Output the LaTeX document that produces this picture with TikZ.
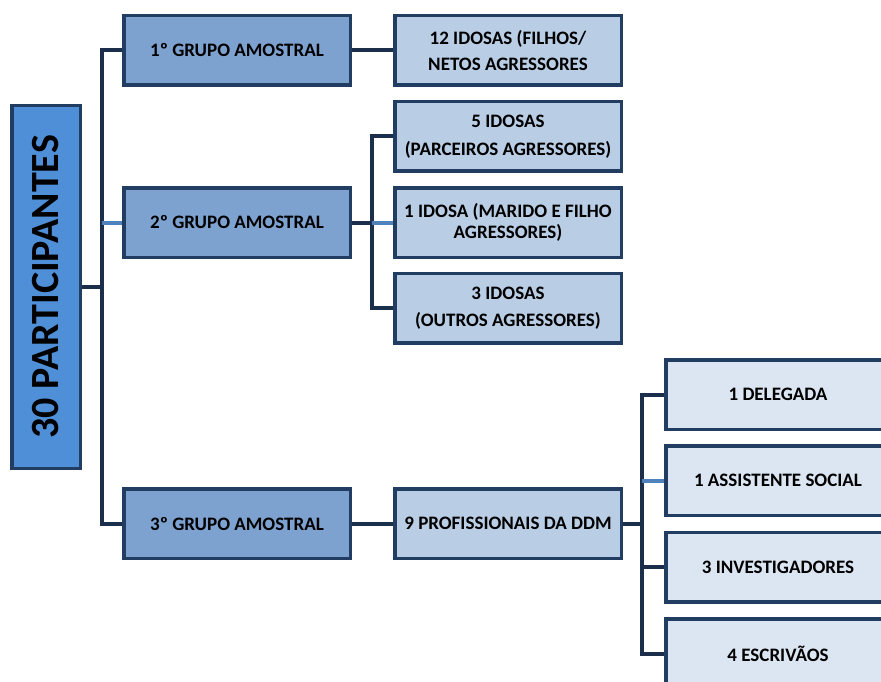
\documentclass[tikz,border=0pt]{standalone}
\usepackage{fontspec}
\setmainfont{Carlito}
\definecolor{bordc}{HTML}{213D61}
\definecolor{connc}{HTML}{1B2F4D}
\definecolor{lightc}{HTML}{4F81BD}
\definecolor{rootf}{HTML}{4F8FD8}
\definecolor{grpf}{HTML}{7EA2D0}
\definecolor{leaff}{HTML}{B9CDE5}
\definecolor{leafg}{HTML}{DCE6F2}
\begin{document}
\begin{tikzpicture}[x=1pt,y=-1pt,
  box/.style={draw=bordc,line width=3.5pt,rectangle,inner sep=1pt,align=center,
    font=\fontsize{19}{27.5}\selectfont\bfseries,text=black},
  rootbox/.style={box,fill=rootf,minimum width=68.5pt,minimum height=362.5pt},
  grpbox/.style={box,fill=grpf,minimum width=226.5pt,minimum height=69.5pt},
  leafbox/.style={box,fill=leaff,minimum width=226.5pt,minimum height=69.5pt},
  subbox/.style={box,fill=leafg,minimum width=224.5pt,minimum height=69.5pt},
  conn/.style={draw=connc,line width=4pt},
  connl/.style={draw=lightc,line width=4pt}]
\useasboundingbox (0,0) rectangle (881,682);
% nodes
\node[rootbox] (root) at (46,287) {};
\node[rotate=90,font=\fontsize{40}{44}\selectfont\bfseries] (roott) at (root.center) {30 PARTICIPANTES};
\node[grpbox] (g1) at (237,50.5) {1º GRUPO AMOSTRAL};
\node[grpbox] (g2) at (237,222.5) {2º GRUPO AMOSTRAL};
\node[grpbox] (g3) at (237,523.5) {3º GRUPO AMOSTRAL};
\node[leafbox,font=\fontsize{19}{26}\selectfont\bfseries] (l1) at (508,50.5) {12 IDOSAS (FILHOS/\\NETOS AGRESSORES};
\node[leafbox] (l2) at (508,136.5) {5 IDOSAS\\(PARCEIROS AGRESSORES)};
\node[leafbox,font=\fontsize{19}{21}\selectfont\bfseries] (l3) at (508,222.5) {1 IDOSA (MARIDO E FILHO\\AGRESSORES)};
\node[leafbox] (l4) at (508,308) {3 IDOSAS\\(OUTROS AGRESSORES)};
\node[leafbox] (p9) at (508,523.5) {9 PROFISSIONAIS DA DDM};
\node[subbox] (d1) at (778,394.5) {1 DELEGADA};
\node[subbox] (d2) at (778,480.5) {1 ASSISTENTE SOCIAL};
\node[subbox] (d3) at (778,567) {3 INVESTIGADORES};
\node[subbox] (d4) at (778,653.5) {4 ESCRIVÃOS};
% trunk coordinates
\coordinate (ta) at (102,0);
\coordinate (tb) at (372,0);
\coordinate (tc) at (642,0);
% level 1
\draw[conn] (root.east) -- (root.east -| ta);
\draw[conn] (g1.west) -- (g1.west -| ta) -- (g3.west -| ta) -- (g3.west);
\draw[connl] (g2.west) -- (g2.west -| ta);
% level 2
\draw[conn] (g1.east) -- (l1.west);
\draw[conn] (g2.east) -- (g2.east -| tb);
\draw[conn] (l2.west) -- (l2.west -| tb) -- (l4.west -| tb) -- (l4.west);
\draw[connl] (l3.west) -- (l3.west -| tb);
\draw[conn] (g3.east) -- (p9.west);
% level 3
\draw[conn] (p9.east) -- (p9.east -| tc);
\draw[conn] (d1.west) -- (d1.west -| tc) -- (d4.west -| tc) -- (d4.west);
\draw[conn] (d3.west) -- (d3.west -| tc);
\draw[connl] (d2.west) -- (d2.west -| tc);
\end{tikzpicture}
\end{document}
